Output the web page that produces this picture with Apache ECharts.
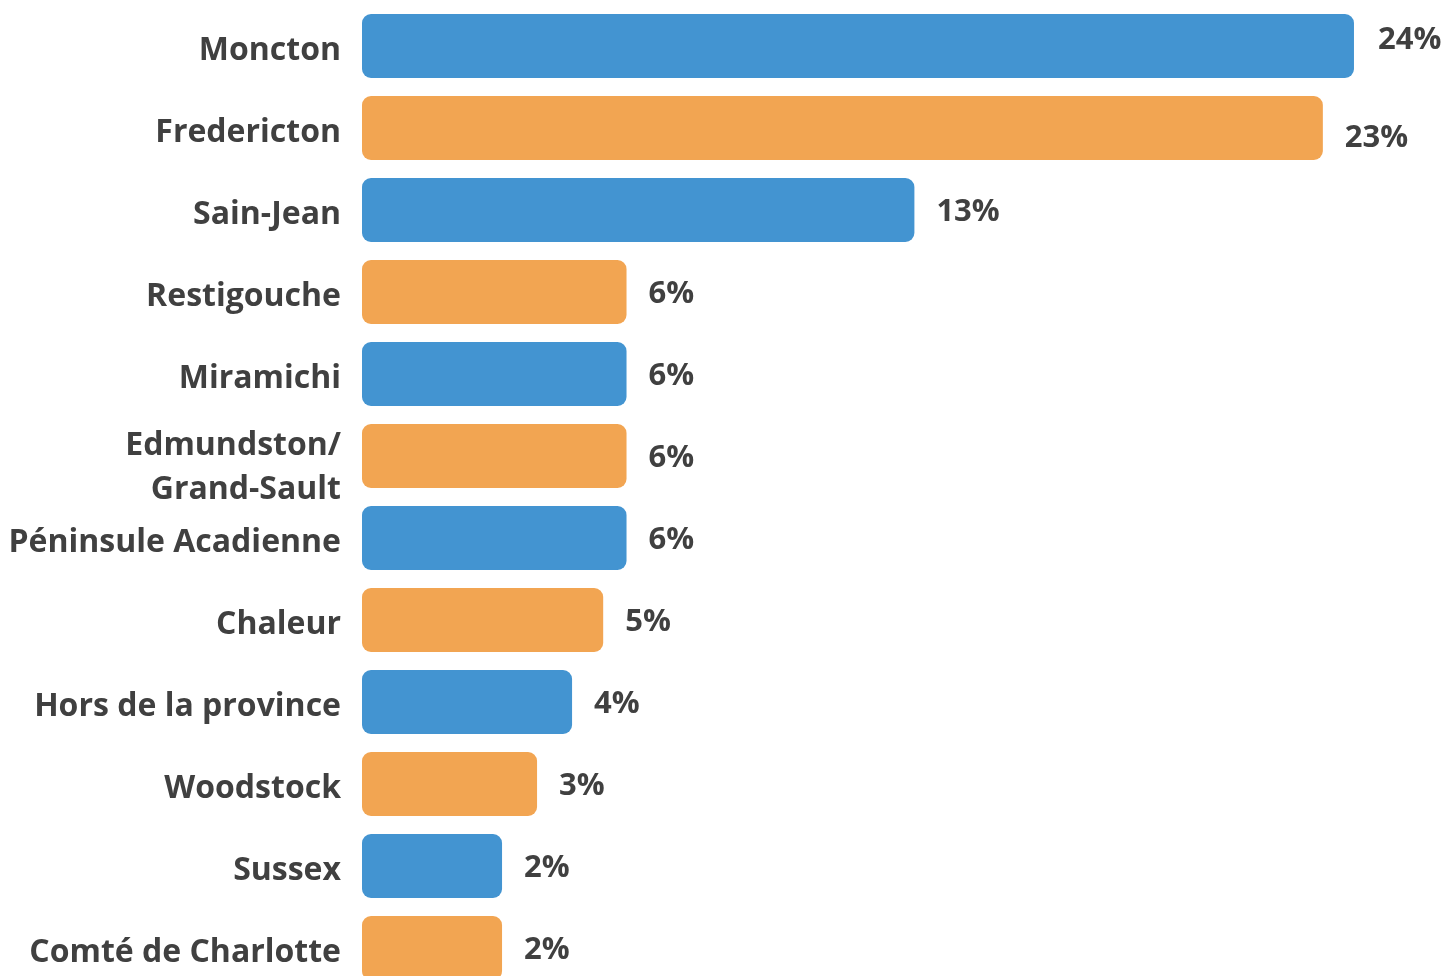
<!DOCTYPE html>
<html>
<head>
<meta charset="utf-8">
<script src="https://cdn.jsdelivr.net/npm/echarts@6/dist/echarts.min.js"></script>
<style>
html,body{margin:0;padding:0;background:#fff;}
#chart{width:1445px;height:976px;}
</style>
</head>
<body>
<div id="chart"></div>
<script>
const categories = ['Moncton','Fredericton','Sain-Jean','Restigouche','Miramichi','Edmundston/\nGrand-Sault','Péninsule Acadienne','Chaleur','Hors de la province','Woodstock','Sussex','Comté de Charlotte'];
const values = [24.2, 23.4, 12.9, 5.5, 5.5, 5.5, 5.5, 4.9, 4.1, 3.2, 2.3, 2.3];
const colors = ['#4394d1', '#f2a552'];

const labelFont = { fontFamily: 'Open Sans', fontWeight: 'bold', fontSize: 32, color: '#404040', align: 'right' };

const chart = echarts.init(document.getElementById('chart'));
chart.setOption({
  animation: false,
  grid: { left: 362, top: 5, height: 984, right: 21, containLabel: false, outerBoundsMode: 'none' },
  xAxis: {
    type: 'value', min: -1.3, max: 26, startValue: -1.3,
    show: false
  },
  yAxis: {
    type: 'category', data: categories, inverse: true,
    axisLine: { show: false }, axisTick: { show: false }, splitLine: { show: false },
    axisLabel: {
      margin: 21, fontFamily: 'Open Sans', fontWeight: 'bold', fontSize: 32,
      color: '#404040', lineHeight: 44, align: 'right',
      formatter: v => {
        const lines = v.split('\n');
        if (lines.length === 1) return '{a|' + v + '}';
        return lines.map(s => '{b|' + s + '}').join('\n');
      },
      rich: {
        a: Object.assign({ lineHeight: 44, padding: [10, 0, 0, 0] }, labelFont),
        b: Object.assign({ lineHeight: 44, padding: [24, 0, 0, 0] }, labelFont)
      }
    }
  },
  series: [{
    type: 'bar',
    barWidth: 64,
    data: values.map((v, i) => ({
      value: v,
      itemStyle: { color: colors[i % 2], borderRadius: 9 },
      label: { offset: [i === 0 ? 2 : 0, i === 0 ? -6 : (i === 1 ? 10 : 2)] }
    })),
    label: {
      show: true, position: 'right', distance: 22,
      fontFamily: 'Open Sans', fontWeight: 'bold', fontSize: 31, color: '#404040',
      formatter: p => Math.round(p.value) + '%'
    }
  }]
});
</script>
</body>
</html>
